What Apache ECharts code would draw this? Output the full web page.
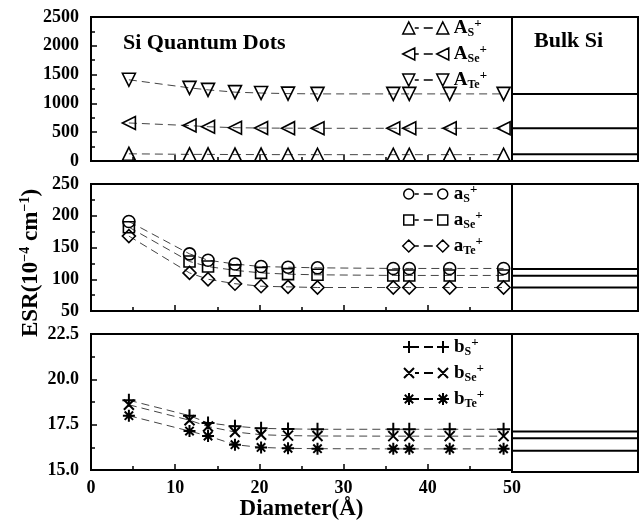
<!DOCTYPE html>
<html><head><meta charset="utf-8">
<script src="https://cdn.jsdelivr.net/npm/echarts@6/dist/echarts.min.js"></script>
<style>html,body{margin:0;padding:0;background:#fff}#c{width:639px;height:522px}</style>
</head><body><div id="c"></div>
<script>
// ---- data ----
const diameters = [4.5, 11.7, 13.9, 17.1, 20.2, 23.4, 26.9, 35.9, 37.8, 42.6, 49.0];
const A_S  = [125, 115, 115, 112, 112, 110, 110, 110, 110, 110, 110];
const A_Se = [660, 615, 595, 578, 572, 570, 568, 568, 568, 568, 568];
const A_Te = [1410, 1270, 1235, 1195, 1180, 1170, 1165, 1165, 1165, 1165, 1165];
const a_S  = [191, 140, 130, 124, 120, 119, 118, 117, 117, 117, 117];
const a_Se = [182, 128, 120, 114, 110, 108, 107, 106, 106, 106, 106];
const a_Te = [168, 110, 100, 93, 89, 88, 87, 87, 87, 87, 87];
const b_S  = [18.85, 18.0, 17.6, 17.42, 17.3, 17.27, 17.25, 17.25, 17.25, 17.25, 17.25];
const b_Se = [18.6, 17.75, 17.4, 17.1, 16.95, 16.9, 16.88, 16.87, 16.87, 16.87, 16.87];
const b_Te = [18.0, 17.15, 16.88, 16.4, 16.25, 16.2, 16.18, 16.17, 16.17, 16.17, 16.17];
const bulkA = [118, 570, 1165];
const bulkAa = [116, 105.5, 87];
const bulkB = [17.2, 16.83, 16.16];
const xTicks = [0, 10, 20, 30, 40, 50];
const yTicksA = [0, 500, 1000, 1500, 2000, 2500];
const yTicksB = [50, 100, 150, 200, 250];
const yTicksC = [15.0, 17.5, 20.0, 22.5];

const FONT = '"Liberation Serif", "Times New Roman", serif';

// ---- symbols ----
const SYM = {
  triUp:   'path://M0,12 L6,0 L12,12 Z',
  triLeft: 'path://M0,6 L12,0 L12,12 Z',
  triDown: 'path://M0,0 L12,0 L6,12 Z',
  circle:  'circle',
  square:  'rect',
  diamond: 'diamond',
  plus:    'path://M6,0 L6,12 M0,6 L12,6',
  cross:   'path://M0,0 L10,10 M10,0 L0,10',
  star:    'path://M6,0 L6,12 M0,6 L12,6 M1.8,1.8 L10.2,10.2 M10.2,1.8 L1.8,10.2'
};
const DASH = ' M12,6 L16,6 M21,6 L30,6';
const ICON = {
  triUp:   'path://M0,12 L6,0 L12,12 Z M34,12 L40,0 L46,12 Z' + DASH,
  triLeft: 'path://M0,6 L12,0 L12,12 Z M34,6 L46,0 L46,12 Z' + DASH,
  triDown: 'path://M0,0 L12,0 L6,12 Z M34,0 L46,0 L40,12 Z' + DASH,
  circle:  'path://M1,6 A5,5 0 1,1 11,6 A5,5 0 1,1 1,6 Z M35,6 A5,5 0 1,1 45,6 A5,5 0 1,1 35,6 Z M0,0 L0,0 M46,12 L46,12' + DASH,
  square:  'path://M1,1 L11,1 L11,11 L1,11 Z M35,1 L45,1 L45,11 L35,11 Z M0,0 L0,0 M46,12 L46,12' + DASH,
  diamond: 'path://M0,6 L6,0 L12,6 L6,12 Z M34,6 L40,0 L46,6 L40,12 Z' + DASH,
  plus:    'path://M6,0 L6,12 M0,6 L12,6 M40,0 L40,12 M34,6 L46,6' + DASH,
  cross:   'path://M1,1 L11,11 M11,1 L1,11 M35,1 L45,11 M45,1 L35,11 M0,0 L0,0 M46,12 L46,12' + DASH,
  star:    'path://M6,0 L6,12 M0,6 L12,6 M1.8,1.8 L10.2,10.2 M10.2,1.8 L1.8,10.2 M40,0 L40,12 M34,6 L46,6 M35.8,1.8 L44.2,10.2 M44.2,1.8 L35.8,10.2' + DASH
};

const panels = [
  { top: 17,  height: 144, ticks: yTicksA, dec: 0, bulk: bulkA, legendTop: 17,
    series: [['A_S', A_S, 'triUp', 13], ['A_Se', A_Se, 'triLeft', 13], ['A_Te', A_Te, 'triDown', 13]] },
  { top: 184, height: 127, ticks: yTicksB, dec: 0, bulk: bulkAa, legendTop: 183,
    series: [['a_S', a_S, 'circle', 12], ['a_Se', a_Se, 'square', 11], ['a_Te', a_Te, 'diamond', 13]] },
  { top: 334, height: 138, ticks: yTicksC, dec: 1, bulk: bulkB, legendTop: 336,
    series: [['b_S', b_S, 'plus', 13], ['b_Se', b_Se, 'cross', 10], ['b_Te', b_Te, 'star', 12]] }
];

const tickStyle = { color: '#000', width: 1.5 };
const labelStyle = { fontFamily: FONT, fontWeight: 'bold', fontSize: 18, color: '#000' };

const grid = [], xAxis = [], yAxis = [], series = [], legend = [];
panels.forEach((p, i) => {
  const mi = 2 * i, bi = 2 * i + 1;
  const ymin = p.ticks[0], ymax = p.ticks[p.ticks.length - 1], yint = p.ticks[1] - p.ticks[0];
  grid.push({ left: 91, top: p.top, width: 421, height: p.height, show: true, borderColor: '#000', borderWidth: 2, backgroundColor: 'transparent' });
  grid.push({ left: 512, top: p.top, width: 126, height: p.height, show: true, borderColor: '#000', borderWidth: 2, backgroundColor: 'transparent' });
  xAxis.push({
    gridIndex: mi, type: 'value', min: xTicks[0], max: xTicks[xTicks.length - 1], interval: xTicks[1] - xTicks[0],
    axisLine: { show: false }, splitLine: { show: false },
    axisTick: { inside: true, length: 6, lineStyle: tickStyle },
    minorTick: { show: true, splitNumber: 2, length: 4, lineStyle: tickStyle },
    axisLabel: Object.assign({ show: i === 2, margin: 9 }, labelStyle),
    name: i === 2 ? 'Diameter(Å)' : '', nameLocation: 'middle', nameGap: 27,
    nameTextStyle: { fontFamily: FONT, fontWeight: 'bold', fontSize: 23, color: '#000' }
  });
  xAxis.push({ gridIndex: bi, type: 'value', min: 0, max: 1, show: false });
  yAxis.push({
    gridIndex: mi, type: 'value', min: ymin, max: ymax, interval: yint,
    axisLine: { show: false }, splitLine: { show: false },
    axisTick: { inside: true, length: 6, lineStyle: tickStyle },
    minorTick: { show: true, splitNumber: 2, length: 4, lineStyle: tickStyle },
    axisLabel: Object.assign({ margin: 12, formatter: v => v.toFixed(p.dec) }, labelStyle)
  });
  yAxis.push({ gridIndex: bi, type: 'value', min: ymin, max: ymax, show: false });

  p.series.forEach(([name, vals, sym, size]) => {
    const heavy = (sym === 'plus' || sym === 'cross' || sym === 'star');
    series.push({
      type: 'line', name, xAxisIndex: mi, yAxisIndex: mi,
      data: diameters.map((d, k) => [d, vals[k]]),
      symbol: SYM[sym], symbolSize: size,
      itemStyle: { color: 'rgba(0,0,0,0)', borderColor: '#000', borderWidth: heavy ? 2 : 1.6 },
      lineStyle: { color: '#444', width: 1, type: [8, 5] },
      emphasis: { disabled: true }, z: 3
    });
  });
  p.bulk.forEach((v, k) => {
    series.push({
      type: 'line', name: 'bulk' + i + k, xAxisIndex: bi, yAxisIndex: bi,
      data: [[0, v], [1, v]], symbol: 'none',
      lineStyle: { color: '#000', width: 2 }, silent: true
    });
  });
  legend.push({
    orient: 'vertical', left: 402, top: p.legendTop, padding: 0,
    itemWidth: 46, itemHeight: 12, itemGap: 4, selectedMode: false,
    data: p.series.map(([name, , sym]) => ({
      name, icon: ICON[sym],
      itemStyle: { color: 'rgba(0,0,0,0)', borderColor: '#000', borderWidth: (sym === 'plus' || sym === 'cross' || sym === 'star') ? 2 : 1.5 }
    })),
    formatter: name => { const [m, s] = name.split('_'); return '{b|' + m + '}{sub|' + s + '}{sup|+}'; },
    textStyle: {
      rich: {
        b: { fontFamily: FONT, fontWeight: 'bold', fontSize: 19, lineHeight: 22, color: '#000' },
        sub: { fontFamily: FONT, fontWeight: 'bold', fontSize: 12, lineHeight: 12, verticalAlign: 'bottom', color: '#000' },
        sup: { fontFamily: FONT, fontWeight: 'bold', fontSize: 13, lineHeight: 12, verticalAlign: 'top', color: '#000' }
      }
    }
  });
});

const chart = echarts.init(document.getElementById('c'), null, { renderer: 'canvas' });
chart.setOption({
  animation: false,
  backgroundColor: '#fff',
  textStyle: { fontFamily: FONT },
  grid, xAxis, yAxis, series, legend,
  graphic: [
    { type: 'text', x: 123, y: 43, style: { text: 'Si Quantum Dots', fontFamily: FONT, fontWeight: 'bold', fontSize: 22, fill: '#000', verticalAlign: 'middle' } },
    { type: 'text', x: 534, y: 41, style: { text: 'Bulk Si', fontFamily: FONT, fontWeight: 'bold', fontSize: 22, fill: '#000', verticalAlign: 'middle' } },
    { type: 'text', x: 31, y: 263, rotation: Math.PI / 2,
      style: {
        text: '{b|ESR(10}{sup|−4}{b| cm}{sup|−1}{b|)}', align: 'center', verticalAlign: 'middle',
        rich: {
          b: { fontFamily: FONT, fontWeight: 'bold', fontSize: 23, lineHeight: 26, fill: '#000' },
          sup: { fontFamily: FONT, fontWeight: 'bold', fontSize: 14, lineHeight: 14, verticalAlign: 'top', fill: '#000' }
        }
      } }
  ]
});
</script></body></html>
